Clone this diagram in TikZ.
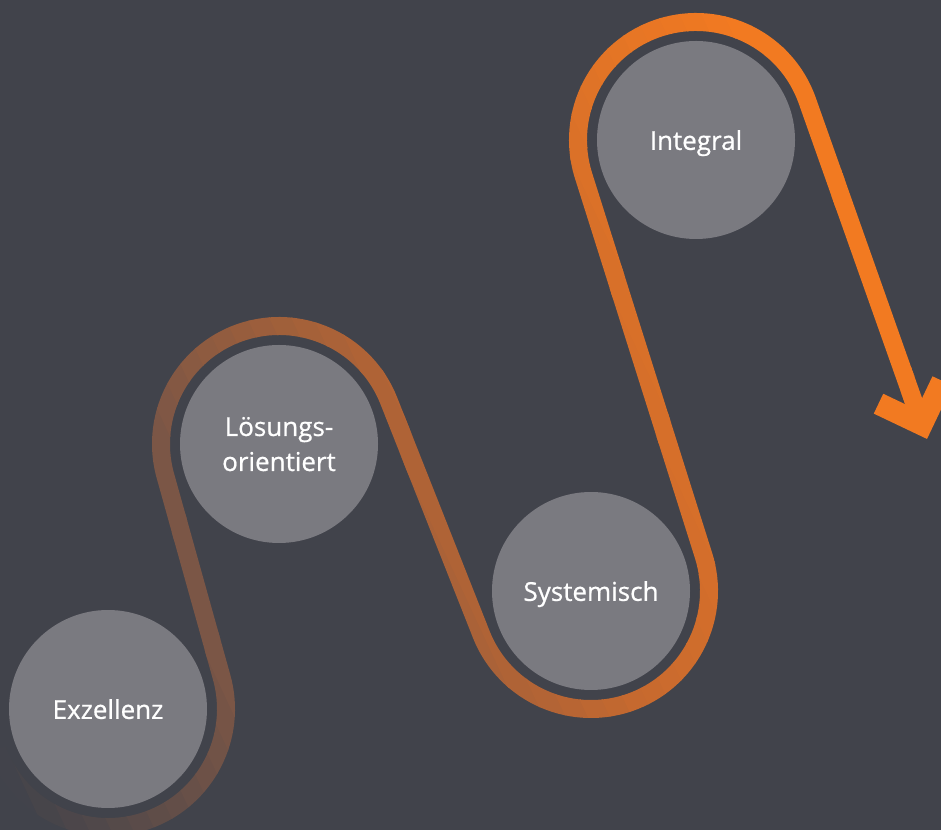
\documentclass[tikz,border=0pt]{standalone}
\usepackage{fontspec}
\setmainfont{Open Sans}
\newfontfamily\discfont{Open Sans}[FakeBold=0.7]
\usetikzlibrary{arrows.meta}

\definecolor{bgdark}{HTML}{41434B}
\definecolor{discgray}{HTML}{7A7A80}
\definecolor{pathbrown}{HTML}{7B5646}
\definecolor{pathmid}{HTML}{C6692F}
\definecolor{pathorange}{HTML}{F27A21}

\tikzset{
  disc/.style={circle, fill=discgray, minimum size=198pt, inner sep=0pt,
    text=white, align=center, text depth=0pt,
    font=\discfont\fontsize{26}{35}\selectfont},
  wave/.style={line width=18},
  chevron/.style={pathorange, line width=22, line join=miter}
}

\newcommand{\wavepath}{
  ([shift={(200:118)}]exz.center) arc[start angle=200, end angle=375.61, radius=118]
  -- ([shift={(195.61:118)}]loes.center) arc[start angle=195.61, end angle=21.59, radius=118]
  -- ([shift={(201.59:118)}]sys.center) arc[start angle=201.59, end angle=377.53, radius=118]
  -- ([shift={(197.53:118)}]integ.center) arc[start angle=197.53, end angle=19.49, radius=118]
  -- (tip)
}

\begin{document}
\begin{tikzpicture}[x=1pt,y=1pt]

\useasboundingbox (0,0) rectangle (941,829);
\fill[bgdark] (-10,-10) rectangle (951,839);

\node[disc] (exz) at (108,120) {Exzellenz};
\node[disc] (loes) at (279,385) {Lösungs-\\orientiert};
\node[disc] (sys) at (591,238) {Systemisch};
\node[disc] (integ) at (696,689) {Integral};
\coordinate (tip) at (921.8,404.7);
\coordinate (barbleft) at (878.5,425.3);
\coordinate (barbright) at (942.4,448);

% colour runs from the faded tail to bright orange
\foreach \p in {0,20,...,1060} {
  \pgfmathsetmacro\ta{100*max(0,min(1,(\p-15)/245))}
  \pgfmathsetmacro\tb{100*max(0,min(1,(\p-300)/320))}
  \pgfmathsetmacro\tc{100*max(0,min(1,(\p-620)/380))}
  \colorlet{stepA}{pathbrown!\ta!bgdark}
  \colorlet{stepB}{pathmid!\tb!stepA}
  \colorlet{stripcol}{pathorange!\tc!stepB}
  \begin{scope}
    \clip[rotate=25] (\p,-1500) rectangle (\p+21,1500);
    \draw[wave, stripcol] \wavepath;
  \end{scope}
}

\draw[chevron] (barbleft) -- (tip) -- (barbright);

\end{tikzpicture}
\end{document}
